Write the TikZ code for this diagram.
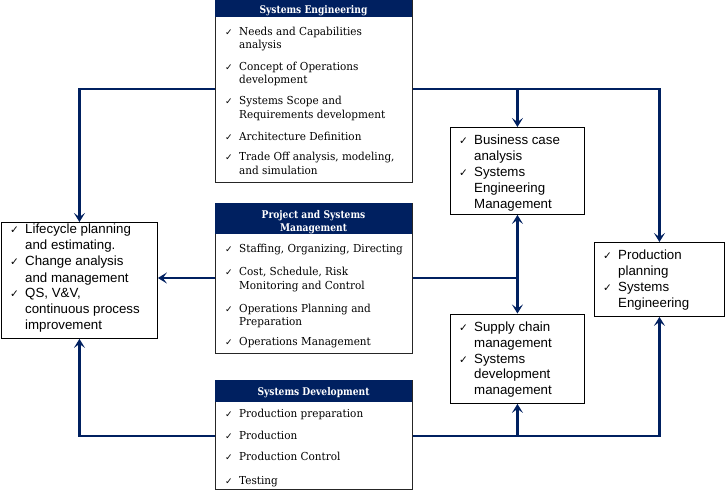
\documentclass[tikz,border=0pt]{standalone}
\usepackage{fontspec}
\setmainfont{DejaVu Serif}
\newfontfamily\hdfont[FakeStretch=0.86]{DejaVu Serif}
\newfontfamily\itfont[FakeStretch=0.95]{DejaVu Serif}
\newfontfamily\sidefont{Liberation Sans}
\newfontfamily\symfont{DejaVu Sans}
\usetikzlibrary{arrows.meta}
\definecolor{navy}{RGB}{0,32,96}
\tikzset{
  conn/.style={draw=navy, line width=2.6pt},
  arrowend/.style={-{Stealth[length=9pt,width=11pt,inset=4pt]}},
  mainbox/.style={draw=black!85, line width=0.9pt, fill=white, anchor=north west, inner sep=0pt, minimum width=197pt},
  sidebox/.style={draw=black, line width=0.9pt, fill=white, anchor=north west, inner sep=0pt},
  hdrbox/.style={fill=navy, anchor=north west, inner sep=0pt, minimum width=197pt},
  hdrtxt/.style={text=white, font=\hdfont\bfseries\fontsize{10.6}{12}\selectfont, anchor=base, inner sep=0pt},
  itm/.style={font=\itfont\fontsize{11}{12}\selectfont, anchor=base west, inner sep=0pt},
  chkm/.style={font=\symfont\fontsize{9}{10}\selectfont, anchor=base west, inner sep=0pt},
  stxt/.style={font=\sidefont\fontsize{13.3}{16}\selectfont, anchor=base west, inner sep=0pt},
  schk/.style={font=\symfont\fontsize{10.5}{12}\selectfont, anchor=base west, inner sep=0pt},
}
\begin{document}
\begin{tikzpicture}[x=1pt,y=-1pt]
\useasboundingbox (0,0) rectangle (728,491);
\fill[white] (0,0) rectangle (728,491);

% ---------- main boxes ----------
\node[mainbox, minimum height=182pt] (se) at (215,0) {};
\node[hdrbox, minimum height=17pt] (seh) at (215,0) {};
\node[hdrtxt] (seht) at (313.5,13.5) {Systems Engineering};

\node[mainbox, minimum height=150pt] (psm) at (215,203) {};
\node[hdrbox, minimum height=31pt] (psmh) at (215,203) {};
\node[hdrtxt] (psmt1) at (313.5,218) {Project and Systems};
\node[hdrtxt] (psmt2) at (313.5,231.5) {Management};

\node[mainbox, minimum height=109pt] (sd) at (215,380) {};
\node[hdrbox, minimum height=22pt] (sdh) at (215,380) {};
\node[hdrtxt] (sdt) at (313.5,395.5) {Systems Development};

% SE items
\node[chkm] (sec1) at (225,35.5) {✓};
\node[itm] (se1a) at (239,35.5) {Needs and Capabilities};
\node[itm] (se1b) at (239,48) {analysis};
\node[chkm] (sec2) at (225,70) {✓};
\node[itm] (se2a) at (239,70) {Concept of Operations};
\node[itm] (se2b) at (239,83) {development};
\node[chkm] (sec3) at (225,104.5) {✓};
\node[itm] (se3a) at (239,104.5) {Systems Scope and};
\node[itm] (se3b) at (239,118) {Requirements development};
\node[chkm] (sec4) at (225,140) {✓};
\node[itm] (se4a) at (239,140) {Architecture Definition};
\node[chkm] (sec5) at (225,160.5) {✓};
\node[itm] (se5a) at (239,160.5) {Trade Off analysis, modeling,};
\node[itm] (se5b) at (239,174.5) {and simulation};

% PSM items
\node[chkm] (psc1) at (225,252) {✓};
\node[itm] (ps1a) at (239,252) {Staffing, Organizing, Directing};
\node[chkm] (psc2) at (225,275.5) {✓};
\node[itm] (ps2a) at (239,275.5) {Cost, Schedule, Risk};
\node[itm] (ps2b) at (239,289) {Monitoring and Control};
\node[chkm] (psc3) at (225,312) {✓};
\node[itm] (ps3a) at (239,312) {Operations Planning and};
\node[itm] (ps3b) at (239,325.5) {Preparation};
\node[chkm] (psc4) at (225,345.5) {✓};
\node[itm] (ps4a) at (239,345.5) {Operations Management};

% SD items
\node[chkm] (sdc1) at (225,417) {✓};
\node[itm] (sd1a) at (239,417) {Production preparation};
\node[chkm] (sdc2) at (225,439.5) {✓};
\node[itm] (sd2a) at (239,439.5) {Production};
\node[chkm] (sdc3) at (225,460) {✓};
\node[itm] (sd3a) at (239,460) {Production Control};
\node[chkm] (sdc4) at (225,484) {✓};
\node[itm] (sd4a) at (239,484) {Testing};

% ---------- side boxes ----------
\node[sidebox, minimum width=156pt, minimum height=116pt] (lc) at (1,222) {};
\node[schk] (lcc1) at (10,233.5) {✓};
\node[stxt] (lc1) at (25,233.5) {Lifecycle planning};
\node[stxt] (lc2) at (25,249.5) {and estimating.};
\node[schk] (lcc2) at (10,265.5) {✓};
\node[stxt] (lc3) at (25,265.5) {Change analysis};
\node[stxt] (lc4) at (25,282) {and management};
\node[schk] (lcc3) at (10,297.5) {✓};
\node[stxt] (lc5) at (25,297.5) {QS, V\&V,};
\node[stxt] (lc6) at (25,313.5) {continuous process};
\node[stxt] (lc7) at (25,329) {improvement};

\node[sidebox, minimum width=134pt, minimum height=87pt] (bc) at (450,127) {};
\node[schk] (bcc1) at (459,144.5) {✓};
\node[stxt] (bc1) at (474,144.5) {Business case};
\node[stxt] (bc2) at (474,160.5) {analysis};
\node[schk] (bcc2) at (459,176) {✓};
\node[stxt] (bc3) at (474,176) {Systems};
\node[stxt] (bc4) at (474,192.5) {Engineering};
\node[stxt] (bc5) at (474,208.5) {Management};

\node[sidebox, minimum width=134pt, minimum height=89.5pt] (scm) at (450,313.5) {};
\node[schk] (scc1) at (459,331) {✓};
\node[stxt] (sc1) at (474,331) {Supply chain};
\node[stxt] (sc2) at (474,347) {management};
\node[schk] (scc2) at (459,363) {✓};
\node[stxt] (sc3) at (474,363) {Systems};
\node[stxt] (sc4) at (474,378.5) {development};
\node[stxt] (sc5) at (474,394.5) {management};

\node[sidebox, minimum width=130pt, minimum height=74pt] (prod) at (594,242) {};
\node[schk] (prc1) at (603,259.5) {✓};
\node[stxt] (pr1) at (618,259.5) {Production};
\node[stxt] (pr2) at (618,275.5) {planning};
\node[schk] (prc2) at (603,291) {✓};
\node[stxt] (pr3) at (618,291) {Systems};
\node[stxt] (pr4) at (618,307) {Engineering};

% ---------- connectors ----------
\coordinate (tl) at (lc.north |- 0,89);
\coordinate (tr) at (prod.north |- 0,89);
\coordinate (bl) at (lc.south |- 0,436);
\coordinate (br) at (prod.south |- 0,436);
\coordinate (mid) at (bc.south |- 0,278);

\draw[conn, arrowend] (se.west |- tl) -- (tl) -- (lc.north);
\draw[conn, arrowend] (se.east |- tr) -- (tr) -- (prod.north);
\draw[conn, arrowend] (bc.north |- tr) -- (bc.north);

\draw[conn, arrowend] (psm.west |- mid) -- (lc.east |- mid);
\draw[conn] (psm.east |- mid) -- (mid);
\draw[conn, {Stealth[length=9pt,width=11pt,inset=4pt]}-{Stealth[length=9pt,width=11pt,inset=4pt]}] (bc.south) -- (scm.north);

\draw[conn, arrowend] (sd.west |- bl) -- (bl) -- (lc.south);
\draw[conn, arrowend] (sd.east |- br) -- (br) -- (prod.south);
\draw[conn, arrowend] (scm.south |- br) -- (scm.south);
\end{tikzpicture}
\end{document}
